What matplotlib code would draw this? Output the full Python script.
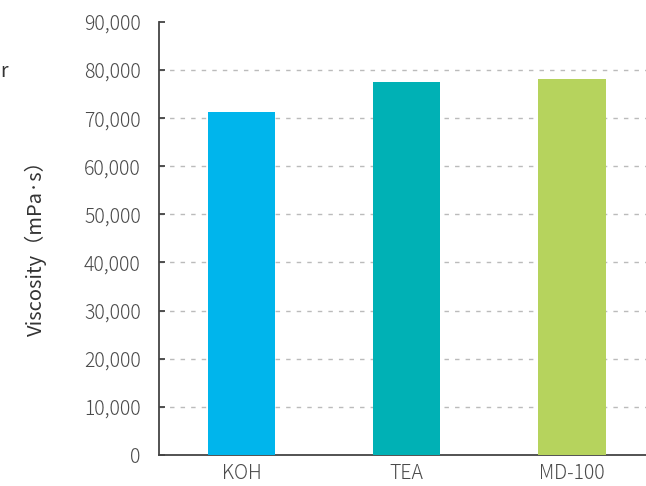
import matplotlib
matplotlib.use("Agg")
import matplotlib.pyplot as plt
from matplotlib.ticker import FuncFormatter

categorias = ["KOH", "TEA", "MD-100"]
viscosidad = [71300, 77600, 78200]
colores = ["#00b5ec", "#00b1b5", "#b6d35d"]
ticks_y = [0, 10000, 20000, 30000, 40000, 50000, 60000, 70000, 80000, 90000]

plt.rcParams['font.family'] = ['Noto Sans CJK JP', 'DejaVu Sans']
plt.rcParams['font.weight'] = 'light'

fig = plt.figure(figsize=(6.46, 4.86), dpi=100)
ax = fig.add_axes([0.246, 0.064, 0.754, 0.891])

x = range(len(categorias))
ax.bar(x, viscosidad, width=0.41, color=colores, zorder=3)

ax.set_xlim(-0.5, 2.45)
ax.set_ylim(0, 90000)
ax.set_yticks(ticks_y)
ax.yaxis.set_major_formatter(FuncFormatter(lambda v, p: "{:,.0f}".format(v)))
ax.set_xticks(list(x))
ax.set_xticklabels(categorias)

# lineas de guia punteadas
for v in ticks_y[1:-1]:
    ax.axhline(v, color="#bbbbbb", linestyle=(0, (3.2, 4.4)), linewidth=1.0, zorder=1)

for lado in ["top", "right"]:
    ax.spines[lado].set_visible(False)
ax.spines["left"].set_color("#444444")
ax.spines["bottom"].set_color("#444444")
ax.spines["left"].set_linewidth(1.3)
ax.spines["bottom"].set_linewidth(1.3)

ax.tick_params(axis="y", direction="in", length=4, width=1.3, color="#444444",
               labelsize=14, labelcolor="#4a4a4a", pad=13)
ax.tick_params(axis="x", length=0, labelsize=14, labelcolor="#4a4a4a", pad=6)

ax.set_ylabel("Viscosity（mPa·s）", fontsize=14.5, color="#333333", fontweight="normal")
ax.yaxis.set_label_coords(-0.23, 0.488)

fig.text(0.0, 0.852, "r", fontsize=14, color="#333333", va="center", fontweight="normal")

fig.savefig("out.png", dpi=100)
